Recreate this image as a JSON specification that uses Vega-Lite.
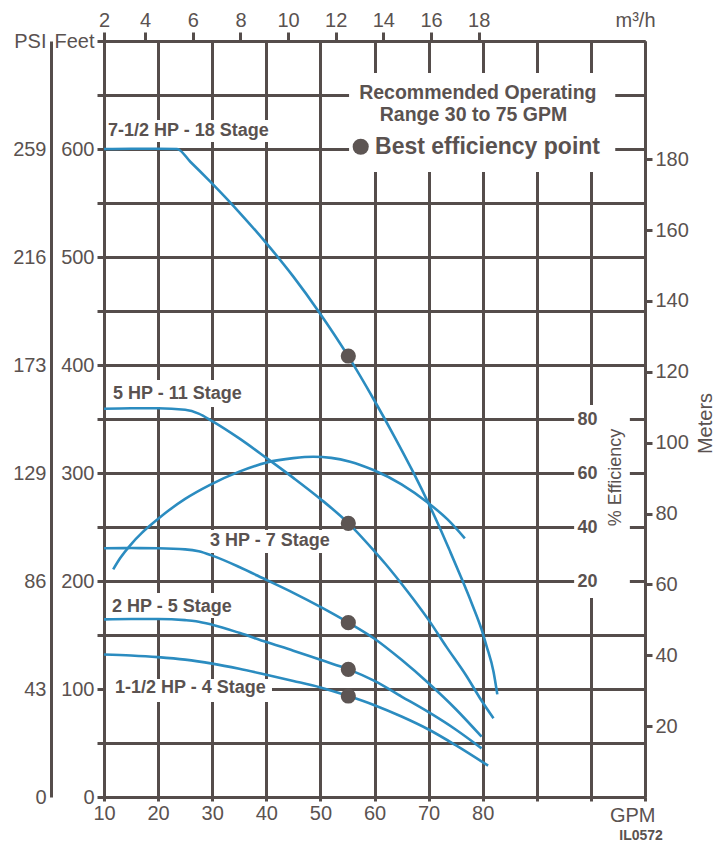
{
  "$schema": "https://vega.github.io/schema/vega-lite/v6.json",
  "width": 541,
  "height": 756,
  "autosize": "none",
  "padding": {"left": 104, "top": 41, "right": 69, "bottom": 49},
  "background": "white",
  "config": {
    "font": "Liberation Sans, Arial, sans-serif",
    "view": {"stroke": null},
    "axis": {
      "domainColor": "#554d4b", "domainWidth": 3,
      "tickColor": "#554d4b", "tickWidth": 3,
      "gridColor": "#554d4b", "gridWidth": 3, "gridOpacity": 1,
      "labelColor": "#5a5250", "labelFontSize": 20, "labelFont": "Liberation Sans, Arial, sans-serif",
      "titleColor": "#5a5250", "titleFontSize": 20, "titleFontWeight": "normal", "titleFont": "Liberation Sans, Arial, sans-serif",
      "labelFlush": false, "labelOverlap": false, "labelBound": false
    }
  },
  "datasets": {
    "boxes": [
      {"x1": 10.37, "x2": 42.5, "y1": 606.5, "y2": 626.9},
      {"x1": 10.37, "x2": 36.1, "y1": 361.1, "y2": 386.1},
      {"x1": 28.7, "x2": 52.7, "y1": 225.9, "y2": 247.2},
      {"x1": 10.37, "x2": 34.2, "y1": 165.7, "y2": 188.9},
      {"x1": 10.37, "x2": 41.05, "y1": 88, "y2": 109.3},
      {"x1": 55.3, "x2": 104.5, "y1": 578.7, "y2": 670.4},
      {"x1": 96.9, "x2": 107.2, "y1": 184.3, "y2": 363}
    ],
    "curves": [
      {"series": "7-1/2 HP - 18 Stage", "gpm": 10, "feet": 600},
      {"series": "7-1/2 HP - 18 Stage", "gpm": 15, "feet": 600.3},
      {"series": "7-1/2 HP - 18 Stage", "gpm": 20, "feet": 600.3},
      {"series": "7-1/2 HP - 18 Stage", "gpm": 23.5, "feet": 600},
      {"series": "7-1/2 HP - 18 Stage", "gpm": 26, "feet": 588},
      {"series": "7-1/2 HP - 18 Stage", "gpm": 29.6, "feet": 570},
      {"series": "7-1/2 HP - 18 Stage", "gpm": 35, "feet": 541.4},
      {"series": "7-1/2 HP - 18 Stage", "gpm": 39.8, "feet": 514},
      {"series": "7-1/2 HP - 18 Stage", "gpm": 45, "feet": 481.8},
      {"series": "7-1/2 HP - 18 Stage", "gpm": 49.8, "feet": 448.7},
      {"series": "7-1/2 HP - 18 Stage", "gpm": 55.2, "feet": 407.7},
      {"series": "7-1/2 HP - 18 Stage", "gpm": 60, "feet": 366.9},
      {"series": "7-1/2 HP - 18 Stage", "gpm": 63.5, "feet": 335.4},
      {"series": "7-1/2 HP - 18 Stage", "gpm": 67.2, "feet": 300.3},
      {"series": "7-1/2 HP - 18 Stage", "gpm": 70, "feet": 271.7},
      {"series": "7-1/2 HP - 18 Stage", "gpm": 72, "feet": 250},
      {"series": "7-1/2 HP - 18 Stage", "gpm": 74, "feet": 227},
      {"series": "7-1/2 HP - 18 Stage", "gpm": 76, "feet": 203.5},
      {"series": "7-1/2 HP - 18 Stage", "gpm": 78, "feet": 179},
      {"series": "7-1/2 HP - 18 Stage", "gpm": 79.8, "feet": 155},
      {"series": "7-1/2 HP - 18 Stage", "gpm": 80.7, "feet": 140},
      {"series": "7-1/2 HP - 18 Stage", "gpm": 82, "feet": 116},
      {"series": "7-1/2 HP - 18 Stage", "gpm": 82.7, "feet": 95},
      {"series": "5 HP - 11 Stage", "gpm": 10, "feet": 359.5},
      {"series": "5 HP - 11 Stage", "gpm": 15, "feet": 360},
      {"series": "5 HP - 11 Stage", "gpm": 20, "feet": 360},
      {"series": "5 HP - 11 Stage", "gpm": 25, "feet": 358.5},
      {"series": "5 HP - 11 Stage", "gpm": 27.5, "feet": 355},
      {"series": "5 HP - 11 Stage", "gpm": 30, "feet": 348},
      {"series": "5 HP - 11 Stage", "gpm": 35, "feet": 332},
      {"series": "5 HP - 11 Stage", "gpm": 40, "feet": 314},
      {"series": "5 HP - 11 Stage", "gpm": 45, "feet": 295.5},
      {"series": "5 HP - 11 Stage", "gpm": 50, "feet": 276},
      {"series": "5 HP - 11 Stage", "gpm": 55.2, "feet": 253.4},
      {"series": "5 HP - 11 Stage", "gpm": 60, "feet": 227.5},
      {"series": "5 HP - 11 Stage", "gpm": 62, "feet": 216},
      {"series": "5 HP - 11 Stage", "gpm": 66, "feet": 191},
      {"series": "5 HP - 11 Stage", "gpm": 70, "feet": 164},
      {"series": "5 HP - 11 Stage", "gpm": 73.3, "feet": 139},
      {"series": "5 HP - 11 Stage", "gpm": 77, "feet": 112},
      {"series": "5 HP - 11 Stage", "gpm": 79.5, "feet": 91.5},
      {"series": "5 HP - 11 Stage", "gpm": 82, "feet": 72.9},
      {"series": "3 HP - 7 Stage", "gpm": 10, "feet": 230.3},
      {"series": "3 HP - 7 Stage", "gpm": 15, "feet": 230.5},
      {"series": "3 HP - 7 Stage", "gpm": 20, "feet": 230.3},
      {"series": "3 HP - 7 Stage", "gpm": 25, "feet": 229.3},
      {"series": "3 HP - 7 Stage", "gpm": 27.5, "feet": 227.5},
      {"series": "3 HP - 7 Stage", "gpm": 30, "feet": 223.5},
      {"series": "3 HP - 7 Stage", "gpm": 35, "feet": 213},
      {"series": "3 HP - 7 Stage", "gpm": 40, "feet": 201},
      {"series": "3 HP - 7 Stage", "gpm": 45, "feet": 189},
      {"series": "3 HP - 7 Stage", "gpm": 50, "feet": 176},
      {"series": "3 HP - 7 Stage", "gpm": 55.2, "feet": 161.4},
      {"series": "3 HP - 7 Stage", "gpm": 60, "feet": 146.5},
      {"series": "3 HP - 7 Stage", "gpm": 65, "feet": 127},
      {"series": "3 HP - 7 Stage", "gpm": 70, "feet": 105.3},
      {"series": "3 HP - 7 Stage", "gpm": 75, "feet": 81.5},
      {"series": "3 HP - 7 Stage", "gpm": 79.8, "feet": 55.8},
      {"series": "2 HP - 5 Stage", "gpm": 10, "feet": 164.5},
      {"series": "2 HP - 5 Stage", "gpm": 15, "feet": 164.8},
      {"series": "2 HP - 5 Stage", "gpm": 20, "feet": 164.8},
      {"series": "2 HP - 5 Stage", "gpm": 25, "feet": 163.8},
      {"series": "2 HP - 5 Stage", "gpm": 27, "feet": 162.8},
      {"series": "2 HP - 5 Stage", "gpm": 30, "feet": 159.5},
      {"series": "2 HP - 5 Stage", "gpm": 35, "feet": 152},
      {"series": "2 HP - 5 Stage", "gpm": 40, "feet": 143.5},
      {"series": "2 HP - 5 Stage", "gpm": 45, "feet": 135.5},
      {"series": "2 HP - 5 Stage", "gpm": 50, "feet": 127},
      {"series": "2 HP - 5 Stage", "gpm": 55.2, "feet": 118.2},
      {"series": "2 HP - 5 Stage", "gpm": 60, "feet": 107.5},
      {"series": "2 HP - 5 Stage", "gpm": 65, "feet": 93},
      {"series": "2 HP - 5 Stage", "gpm": 70, "feet": 78.5},
      {"series": "2 HP - 5 Stage", "gpm": 75, "feet": 62.5},
      {"series": "2 HP - 5 Stage", "gpm": 79.8, "feet": 45},
      {"series": "1-1/2 HP - 4 Stage", "gpm": 10, "feet": 131.9},
      {"series": "1-1/2 HP - 4 Stage", "gpm": 15, "feet": 131},
      {"series": "1-1/2 HP - 4 Stage", "gpm": 20, "feet": 129.5},
      {"series": "1-1/2 HP - 4 Stage", "gpm": 25, "feet": 127.2},
      {"series": "1-1/2 HP - 4 Stage", "gpm": 30, "feet": 123.5},
      {"series": "1-1/2 HP - 4 Stage", "gpm": 35, "feet": 118.7},
      {"series": "1-1/2 HP - 4 Stage", "gpm": 40, "feet": 113.2},
      {"series": "1-1/2 HP - 4 Stage", "gpm": 45, "feet": 107.5},
      {"series": "1-1/2 HP - 4 Stage", "gpm": 50, "feet": 101.5},
      {"series": "1-1/2 HP - 4 Stage", "gpm": 55.2, "feet": 93.5},
      {"series": "1-1/2 HP - 4 Stage", "gpm": 60, "feet": 85},
      {"series": "1-1/2 HP - 4 Stage", "gpm": 65, "feet": 74.5},
      {"series": "1-1/2 HP - 4 Stage", "gpm": 70, "feet": 62.5},
      {"series": "1-1/2 HP - 4 Stage", "gpm": 75, "feet": 48},
      {"series": "1-1/2 HP - 4 Stage", "gpm": 81, "feet": 29}
    ],
    "efficiency": [
      {"gpm": 11.7, "eff": 24.3},
      {"gpm": 13, "eff": 28.5},
      {"gpm": 15, "eff": 33.6},
      {"gpm": 17, "eff": 37.8},
      {"gpm": 19.4, "eff": 42},
      {"gpm": 22, "eff": 46.2},
      {"gpm": 25, "eff": 50.4},
      {"gpm": 29.6, "eff": 55.6},
      {"gpm": 35, "eff": 60.5},
      {"gpm": 40.1, "eff": 63.9},
      {"gpm": 45, "eff": 65.5},
      {"gpm": 48.7, "eff": 66},
      {"gpm": 52, "eff": 65.6},
      {"gpm": 55.5, "eff": 64.2},
      {"gpm": 59.8, "eff": 61.1},
      {"gpm": 65, "eff": 55.8},
      {"gpm": 70, "eff": 48.8},
      {"gpm": 73.5, "eff": 42.8},
      {"gpm": 76.7, "eff": 35.8}
    ],
    "bep": [
      {"series": "7-1/2 HP - 18 Stage", "gpm": 55.16, "feet": 408.3},
      {"series": "5 HP - 11 Stage", "gpm": 55.16, "feet": 253.4},
      {"series": "3 HP - 7 Stage", "gpm": 55.16, "feet": 161.4},
      {"series": "2 HP - 5 Stage", "gpm": 55.16, "feet": 118.2},
      {"series": "1-1/2 HP - 4 Stage", "gpm": 55.16, "feet": 93.5}
    ],
    "legendDot": [{"gpm": 57.45, "feet": 602.1}],
    "curveLabels": [
      {"gpm": 10.74, "feet": 616.7, "text": "7-1/2 HP - 18 Stage"},
      {"gpm": 11.66, "feet": 373.6, "text": "5 HP - 11 Stage"},
      {"gpm": 29.6, "feet": 236.6, "text": "3 HP - 7 Stage"},
      {"gpm": 11.48, "feet": 175.9, "text": "2 HP - 5 Stage"},
      {"gpm": 12.03, "feet": 100.5, "text": "1-1/2 HP - 4 Stage"}
    ],
    "legendLines": [
      {"gpm": 79.1, "feet": 651.9, "text": "Recommended Operating"},
      {"gpm": 78.3, "feet": 631.5, "text": "Range 30 to 75 GPM"}
    ],
    "legendBep": [{"gpm": 60.1, "feet": 601.9, "text": "Best efficiency point"}],
    "code": [{"gpm": 113.3, "feet": -36.1, "text": "IL0572"}]
  },
  "resolve": {"scale": {"y": "independent"}, "axis": {"x": "independent", "y": "independent"}},
  "layer": [
    {
      "data": {"name": "boxes"},
      "mark": {"type": "rect", "fill": "white", "stroke": null},
      "encoding": {
        "x": {"field": "x1", "type": "quantitative", "scale": {"domain": [10, 110], "nice": false, "zero": false},
          "axis": {"orient": "bottom", "grid": true, "values": [10, 20, 30, 40, 50, 60, 70, 80, 90, 100, 110],
            "labelExpr": "datum.value <= 80 ? datum.label : ''", "tickSize": 4, "labelPadding": 2,
            "title": "GPM", "titleX": 551, "titleY": 18, "titleAlign": "right", "titleBaseline": "middle", "titleAngle": 0}},
        "x2": {"field": "x2"},
        "y": {"field": "y1", "type": "quantitative", "scale": {"domain": [0, 700], "nice": false, "zero": false},
          "axis": {"orient": "left", "grid": true, "values": [0, 50, 100, 150, 200, 250, 300, 350, 400, 450, 500, 550, 600, 650, 700],
            "labelExpr": "datum.value == 700 ? 'Feet' : (datum.value % 100 == 0 ? datum.label : '')",
            "tickSize": 7, "labelPadding": 3, "title": null}},
        "y2": {"field": "y2"}
      }
    },
    {
      "data": {"name": "curves"},
      "mark": {"type": "line", "interpolate": "monotone", "color": "#2b8cc0", "strokeWidth": 2.6},
      "encoding": {
        "x": {"field": "gpm", "type": "quantitative", "scale": {"domain": [10, 110], "nice": false, "zero": false},
          "axis": {"orient": "top", "grid": false, "values": [10, 17.61, 26.42, 35.22, 44.03, 52.83, 61.64, 70.45, 79.25],
            "labelExpr": "format(round(datum.value * 0.2271), 'd')", "tickSize": 9, "labelPadding": 2,
            "title": "m³/h", "titleX": 551, "titleY": -21, "titleAlign": "right", "titleBaseline": "middle", "titleAngle": 0}},
        "y": {"field": "feet", "type": "quantitative", "scale": {"domain": [0, 700], "nice": false, "zero": false},
          "axis": {"orient": "left", "offset": 53, "grid": false, "ticks": false, "tickSize": 0, "values": [0, 100, 200, 300, 400, 500, 600, 700],
            "labelExpr": "datum.value == 700 ? 'PSI' : format(floor(datum.value * 0.4331), 'd')", "labelPadding": 5, "title": null}},
        "detail": {"field": "series", "type": "nominal"}
      }
    },
    {
      "data": {"name": "efficiency"},
      "mark": {"type": "line", "interpolate": "monotone", "color": "#2b8cc0", "strokeWidth": 2.6},
      "encoding": {
        "x": {"field": "gpm", "type": "quantitative", "scale": {"domain": [10, 110], "nice": false, "zero": false}, "axis": null},
        "y": {"field": "eff", "type": "quantitative", "scale": {"domain": [-60, 220], "nice": false, "zero": false},
          "axis": {"orient": "right", "offset": -71, "zindex": 1, "grid": false, "ticks": false, "tickSize": 0, "domain": false,
            "values": [20, 40, 60, 80], "labelFontWeight": "bold", "labelFontSize": 18, "labelPadding": 3, "labelAlign": "left",
            "title": "% Efficiency", "titleFontSize": 18, "titleAngle": 270, "titleX": 41, "titleY": 436, "titleAlign": "center", "titleBaseline": "middle"}}
      }
    },
    {
      "data": {"name": "bep"},
      "mark": {"type": "point", "filled": true, "color": "#5d5553", "opacity": 1, "size": 230},
      "encoding": {
        "x": {"field": "gpm", "type": "quantitative", "scale": {"domain": [10, 110], "nice": false, "zero": false}, "axis": null},
        "y": {"field": "feet", "type": "quantitative", "scale": {"domain": [0, 700], "nice": false, "zero": false},
          "axis": {"orient": "right", "grid": false, "values": [65.62, 131.23, 196.85, 262.47, 328.08, 393.7, 459.32, 524.93, 590.55],
            "labelExpr": "format(round(datum.value / 3.2808), 'd')", "tickSize": 7, "labelPadding": 3,
            "title": "Meters", "titleAngle": 270, "titleX": 60, "titleY": 382, "titleAlign": "center", "titleBaseline": "middle"}}
      }
    },
    {
      "data": {"name": "legendDot"},
      "mark": {"type": "point", "filled": true, "color": "#5d5553", "opacity": 1, "size": 260},
      "encoding": {
        "x": {"field": "gpm", "type": "quantitative", "scale": {"domain": [10, 110], "nice": false, "zero": false}, "axis": null},
        "y": {"field": "feet", "type": "quantitative", "scale": {"domain": [0, 700], "nice": false, "zero": false}, "axis": null}
      }
    },
    {
      "data": {"name": "curveLabels"},
      "mark": {"type": "text", "align": "left", "baseline": "middle", "fontWeight": "bold", "fontSize": 18, "color": "#5a5250"},
      "encoding": {
        "x": {"field": "gpm", "type": "quantitative", "scale": {"domain": [10, 110], "nice": false, "zero": false}, "axis": null},
        "y": {"field": "feet", "type": "quantitative", "scale": {"domain": [0, 700], "nice": false, "zero": false}, "axis": null},
        "text": {"field": "text"}
      }
    },
    {
      "data": {"name": "legendLines"},
      "mark": {"type": "text", "align": "center", "baseline": "middle", "fontWeight": "bold", "fontSize": 19.5, "color": "#5a5250"},
      "encoding": {
        "x": {"field": "gpm", "type": "quantitative", "scale": {"domain": [10, 110], "nice": false, "zero": false}, "axis": null},
        "y": {"field": "feet", "type": "quantitative", "scale": {"domain": [0, 700], "nice": false, "zero": false}, "axis": null},
        "text": {"field": "text"}
      }
    },
    {
      "data": {"name": "legendBep"},
      "mark": {"type": "text", "align": "left", "baseline": "middle", "fontWeight": "bold", "fontSize": 23, "color": "#5a5250"},
      "encoding": {
        "x": {"field": "gpm", "type": "quantitative", "scale": {"domain": [10, 110], "nice": false, "zero": false}, "axis": null},
        "y": {"field": "feet", "type": "quantitative", "scale": {"domain": [0, 700], "nice": false, "zero": false}, "axis": null},
        "text": {"field": "text"}
      }
    },
    {
      "data": {"name": "code"},
      "mark": {"type": "text", "align": "right", "baseline": "middle", "fontWeight": "bold", "fontSize": 14, "color": "#5a5250"},
      "encoding": {
        "x": {"field": "gpm", "type": "quantitative", "scale": {"domain": [10, 110], "nice": false, "zero": false}, "axis": null},
        "y": {"field": "feet", "type": "quantitative", "scale": {"domain": [0, 700], "nice": false, "zero": false}, "axis": null},
        "text": {"field": "text"}
      }
    }
  ]
}
